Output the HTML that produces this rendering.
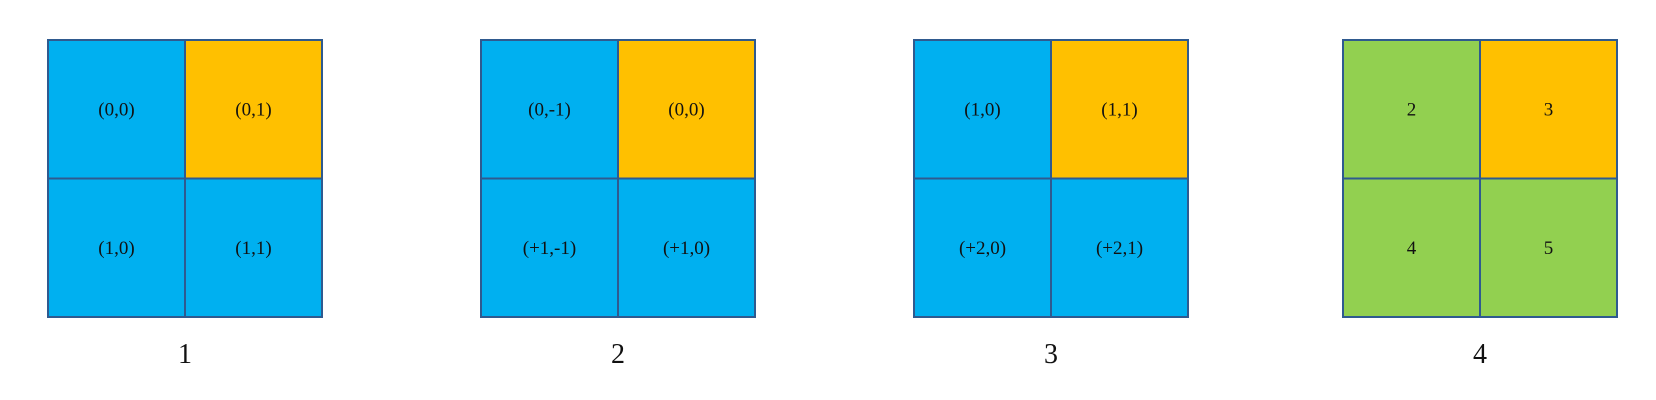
<!DOCTYPE html>
<html><head><meta charset="utf-8"><style>
html,body{margin:0;padding:0;background:#fff;width:1656px;height:400px;overflow:hidden}
svg{display:block}
text{font-family:"Liberation Serif",serif;fill:#111}
</style></head><body>
<svg id="chart" width="1656" height="400"></svg>
<script>
const panelX = [48, 481, 914, 1343];
const panelLabels = ["1","2","3","4"];
const cellTexts = [
  ["(0,0)","(0,1)","(1,0)","(1,1)"],
  ["(0,-1)","(0,0)","(+1,-1)","(+1,0)"],
  ["(1,0)","(1,1)","(+2,0)","(+2,1)"],
  ["2","3","4","5"]
];
const cellColors = [
  ["#00b0f0","#ffc000","#00b0f0","#00b0f0"],
  ["#00b0f0","#ffc000","#00b0f0","#00b0f0"],
  ["#00b0f0","#ffc000","#00b0f0","#00b0f0"],
  ["#92d050","#ffc000","#92d050","#92d050"]
];
const svg = document.getElementById('chart');
const NS = 'http://www.w3.org/2000/svg';
const W = 274, H = 277, Y0 = 40;
panelX.forEach((px, p) => {
  const g = document.createElementNS(NS, 'g');
  
  
  for (let i = 0; i < 4; i++) {
    const r = Math.floor(i / 2), c = i % 2;
    const x = px + c * W / 2, y = Y0 + r * H / 2;
    const rect = document.createElementNS(NS, 'rect');
    rect.setAttribute('x', x); rect.setAttribute('y', y);
    rect.setAttribute('width', W / 2); rect.setAttribute('height', H / 2);
    rect.setAttribute('fill', cellColors[p][i]);
    rect.setAttribute('stroke', '#2f5a8f'); rect.setAttribute('stroke-width', '2');
    
    
    g.appendChild(rect);
    const t = document.createElementNS(NS, 'text');
    t.setAttribute('x', x + W / 4); t.setAttribute('y', y + H / 4 + 6);
    t.setAttribute('text-anchor', 'middle'); t.setAttribute('font-size', '19');
    t.textContent = cellTexts[p][i];
    
    
    g.appendChild(t);
  }
  const lab = document.createElementNS(NS, 'text');
  lab.setAttribute('x', px + W / 2); lab.setAttribute('y', 363);
  lab.setAttribute('text-anchor', 'middle'); lab.setAttribute('font-size', '28');
  lab.textContent = panelLabels[p];
  
  
  g.appendChild(lab);
  svg.appendChild(g);
});
</script>
</body></html>
